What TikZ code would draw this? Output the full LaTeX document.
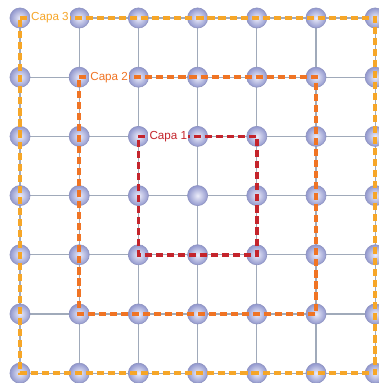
\documentclass[tikz,border=0pt]{standalone}
\usepackage{fontspec}
\setmainfont{Liberation Sans}
\usepackage{tikz}
\usetikzlibrary{positioning}
\definecolor{rejilla}{RGB}{160,170,186}
\definecolor{bolaborde}{RGB}{146,152,206}
\definecolor{bolacentro}{RGB}{236,237,250}
\definecolor{capauno}{RGB}{196,36,44}
\definecolor{capados}{RGB}{240,116,36}
\definecolor{capatres}{RGB}{246,166,40}
\begin{document}
\begin{tikzpicture}[
  nodo/.style={circle, minimum size=0.34cm, inner sep=0pt,
               draw=bolaborde!85!gray, line width=0.3pt,
               shading=radial, inner color=bolacentro, outer color=bolaborde},
  linea/.style={draw=rejilla, line width=0.55pt},
  capa/.style={draw=#1, line width=1.75pt, dash pattern=on 3.4pt off 1.9pt},
  etiq/.style={font=\fontsize{5.6}{6.7}\selectfont, text=#1, fill=white,
               inner sep=0.6pt, anchor=west}]
  \useasboundingbox (-0.338,-0.166) rectangle (6.064,6.304);
  % nodos de la red
  \foreach \c in {0,...,6}
    \foreach \r in {0,...,6}
      \coordinate (p-\c-\r) at (\c,6-\r);
  % lineas de la red
  \foreach \c in {0,...,6}
    \draw[linea] (p-\c-0) -- (p-\c-6);
  \foreach \r in {0,...,6}
    \draw[linea] (p-0-\r) -- (p-6-\r);
  \foreach \c in {0,...,6}
    \foreach \r in {0,...,6}
      \node[nodo] (n-\c-\r) at (p-\c-\r) {};
  % capas
  \draw[capa=capatres] (n-0-0.center) -- (n-6-0.center) -- (n-6-6.center)
     -- (n-0-6.center) -- cycle;
  \draw[capa=capados] (n-1-1.center) -- (n-5-1.center) -- (n-5-5.center)
     -- (n-1-5.center) -- cycle;
  \draw[capa=capauno] (n-2-2.center) -- (n-4-2.center) -- (n-4-4.center)
     -- (n-2-4.center) -- cycle;
  \node[etiq=capatres] (l3) at ([xshift=0.16cm]n-0-0.center) {Capa 3};
  \node[etiq=capados]  (l2) at ([xshift=0.16cm]n-1-1.center) {Capa 2};
  \node[etiq=capauno]  (l1) at ([xshift=0.16cm]n-2-2.center) {Capa 1};
\end{tikzpicture}
\end{document}
